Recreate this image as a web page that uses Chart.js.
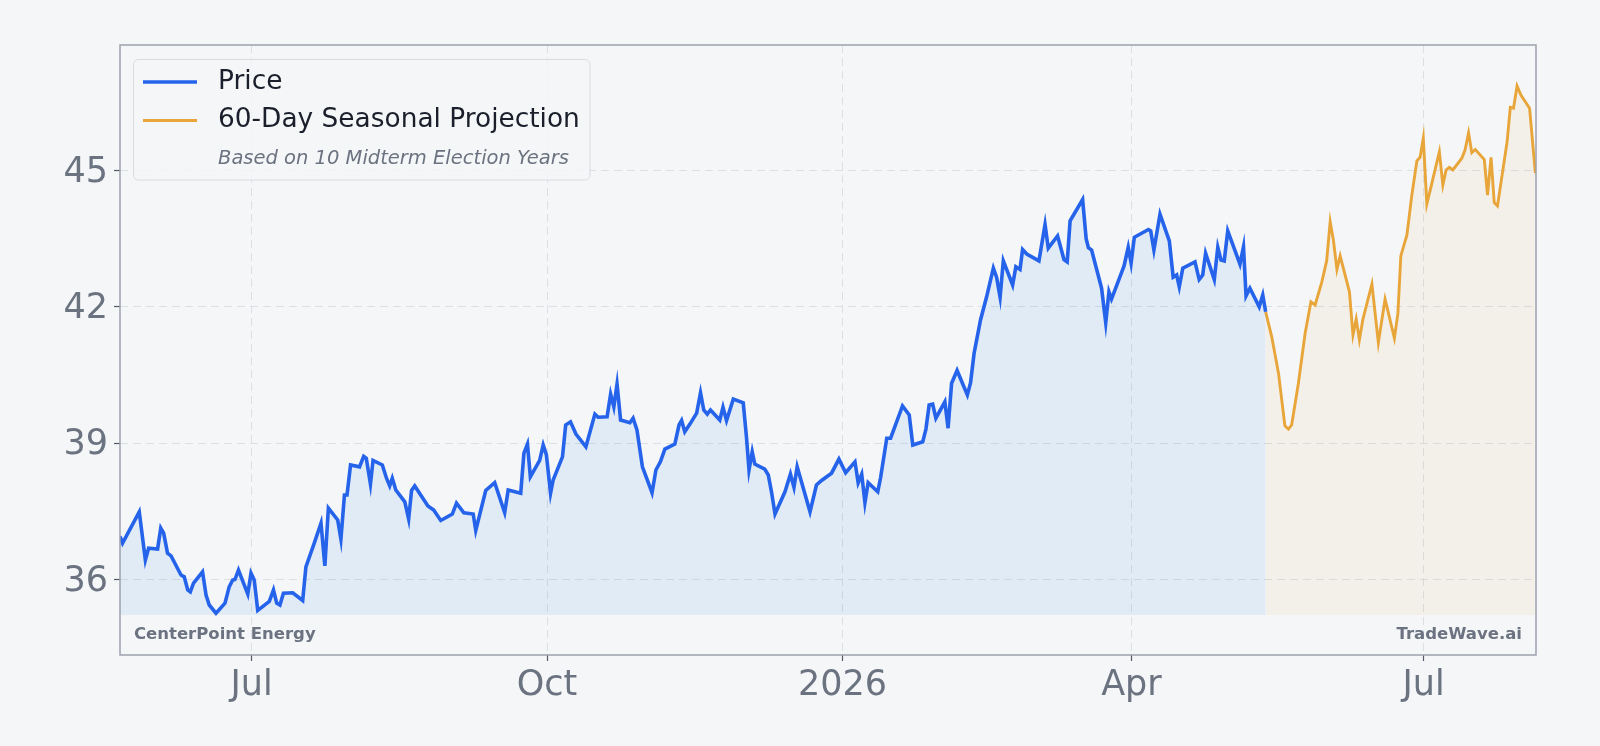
<!DOCTYPE html>
<html>
<head>
<meta charset="utf-8">
<script src="https://cdn.jsdelivr.net/npm/chart.js@4/dist/chart.umd.min.js"></script>
<style>
  html, body { margin: 0; padding: 0; background: #F5F6F8; }
  #wrap { width: 1600px; height: 746px; }
</style>
</head>
<body>
<div id="wrap"><canvas id="c" width="1600" height="746"></canvas></div>
<script>
// x values are days since 2025-07-01
const priceDays = [-41.0,-40.2,-35.0,-33.1,-32.1,-29.3,-28.3,-27.4,-26.2,-25.1,-22.0,-21.0,-19.9,-19.1,-18.1,-15.3,-14.2,-13.2,-11.1,-8.3,-7.0,-5.9,-5.2,-4.1,-1.2,-0.2,0.8,1.9,5.5,6.8,7.8,8.8,9.9,12.8,15.9,16.9,19.5,21.6,22.8,23.9,26.8,27.8,28.9,29.7,30.8,33.6,34.9,35.7,37.0,37.8,40.7,42.0,43.0,43.8,44.9,47.7,48.9,49.8,50.8,54.9,56.7,58.9,62.5,63.8,66.1,69.0,69.8,72.9,75.7,78.8,79.9,83.8,84.8,85.9,86.8,89.7,90.8,91.8,93.1,93.9,96.8,97.8,99.3,101.0,104.1,106.9,107.9,110.7,111.8,112.8,113.8,114.9,117.8,118.8,120.0,121.7,124.7,125.9,127.3,128.7,131.8,133.1,133.9,134.9,136.5,138.6,139.8,140.8,141.9,142.9,145.8,146.8,147.9,150.0,153.1,154.1,154.9,155.9,156.7,159.8,160.9,161.9,163.0,166.1,167.8,168.9,169.9,173.9,175.9,177.5,180.6,182.9,185.0,187.9,188.9,190.0,191.0,192.0,195.0,195.9,197.8,199.0,202.7,204.8,205.9,209.0,210.0,211.0,212.1,213.1,215.9,216.9,218.0,219.7,222.9,223.9,225.0,227.0,228.9,231.0,232.0,233.1,234.1,237.0,238.0,239.3,240.1,241.4,245.2,247.1,248.1,251.0,253.0,254.0,254.9,258.8,259.9,260.6,261.6,264.7,266.0,267.0,267.8,271.7,273.0,273.9,274.9,279.3,280.0,281.0,282.9,285.8,287.0,288.1,288.9,290.0,293.8,295.1,296.2,297.1,299.8,300.9,301.9,302.9,304.0,307.8,308.9,309.7,310.9,313.8,314.9,315.8];
const priceValues = [36.95,36.80,37.49,36.43,36.69,36.67,37.13,37.02,36.58,36.52,36.10,36.06,35.77,35.73,35.92,36.17,35.66,35.44,35.26,35.48,35.84,35.99,36.00,36.21,35.68,36.14,35.99,35.32,35.52,35.77,35.48,35.44,35.70,35.71,35.54,36.28,36.80,37.24,36.30,37.57,37.31,36.89,37.86,37.86,38.52,38.48,38.71,38.67,38.10,38.62,38.52,38.23,38.06,38.23,37.97,37.71,37.33,37.96,38.06,37.62,37.53,37.30,37.44,37.68,37.47,37.44,37.08,37.96,38.13,37.47,37.97,37.90,38.78,38.98,38.26,38.62,38.96,38.74,37.90,38.19,38.70,39.40,39.47,39.20,38.92,39.64,39.57,39.58,40.08,39.80,40.30,39.51,39.45,39.55,39.29,38.48,37.91,38.41,38.59,38.87,38.98,39.40,39.50,39.25,39.42,39.66,40.11,39.73,39.64,39.73,39.51,39.79,39.50,39.97,39.89,39.14,38.41,38.81,38.54,38.43,38.30,37.93,37.44,37.93,38.32,38.03,38.48,37.49,38.08,38.18,38.34,38.65,38.35,38.59,38.13,38.32,37.69,38.13,37.93,38.25,39.11,39.11,39.82,39.62,38.96,39.03,39.31,39.84,39.86,39.55,39.91,39.33,40.32,40.60,40.06,40.33,40.98,41.71,42.22,42.85,42.65,42.21,43.01,42.48,42.88,42.82,43.26,43.16,43.01,43.81,43.29,43.56,43.04,42.99,43.89,44.36,43.50,43.30,43.25,42.41,41.65,42.33,42.17,42.90,43.31,42.96,43.53,43.70,43.67,43.25,44.04,43.45,42.65,42.70,42.44,42.85,42.99,42.60,42.70,43.18,42.60,43.31,43.03,43.01,43.67,42.94,43.32,42.24,42.41,42.00,42.26,41.89];
const projDays = [315.8,317.7,319.8,321.8,322.9,323.9,326.0,328.1,329.9,331.2,333.3,334.8,335.9,336.9,338.0,339.0,341.9,343.0,344.0,345.0,346.1,348.9,350.9,353.0,355.9,357.0,357.9,359.8,361.3,362.9,363.9,364.9,366.0,367.0,369.9,371.0,372.0,373.0,374.1,376.9,377.9,379.0,380.0,381.1,383.9,384.9,386.0,387.0,388.0,391.0,392.0,393.0,394.1,395.3,398.0,399.8];
const projValues = [41.89,41.34,40.54,39.38,39.31,39.40,40.32,41.42,42.11,42.04,42.55,43.01,43.87,43.47,42.82,43.12,42.33,41.38,41.73,41.27,41.73,42.50,41.21,42.17,41.31,41.86,43.12,43.58,44.44,45.21,45.29,45.71,44.26,44.55,45.41,44.68,45.01,45.07,45.01,45.27,45.45,45.83,45.39,45.46,45.24,44.46,45.29,44.29,44.22,45.63,46.39,46.37,46.86,46.66,46.37,44.94];
const xTickDays = [0, 92, 184, 274, 365];
const xTickLabels = ['Jul', 'Oct', '2026', 'Apr', 'Jul'];
const yTickValues = [36, 39, 42, 45];
const fillBase = 35.22;
const seriesNames = ['Price', '60-Day Seasonal Projection'];
const legendNote = 'Based on 10 Midterm Election Years';
const leftMark = 'CenterPoint Energy';
const rightMark = 'TradeWave.ai';

const FONT = "'DejaVu Sans', 'Liberation Sans', sans-serif";
const BLUE = '#2563EB';
const ORANGE = '#E8A63A';
const TICKC = '#6b7280';

const overlay = {
  id: 'overlay',
  afterDraw(chart) {
    const ctx = chart.ctx;
    const a = chart.chartArea;
    ctx.save();
    // frame
    ctx.strokeStyle = '#9ca1ab';
    ctx.lineWidth = 1.5;
    ctx.strokeRect(a.left, a.top, a.right - a.left, a.bottom - a.top);
    // watermarks
    ctx.font = 'bold 16.5px ' + FONT;
    ctx.fillStyle = '#6b7280';
    ctx.textBaseline = 'middle';
    ctx.textAlign = 'left';
    ctx.fillText(leftMark, a.left + 14, a.bottom - 20);
    ctx.textAlign = 'right';
    ctx.fillText(rightMark, a.right - 14, a.bottom - 20);
    // legend box
    const bx = a.left + 13.5, by = a.top + 14.5, bw = 456.5, bh = 120.5;
    ctx.beginPath();
    ctx.roundRect(bx, by, bw, bh, 5);
    ctx.fillStyle = 'rgba(245,246,248,0.8)';
    ctx.fill();
    ctx.strokeStyle = '#d8dbe0';
    ctx.lineWidth = 1;
    ctx.stroke();
    const lx0 = bx + 9.5, lx1 = bx + 63.5, tx = bx + 84.5;
    const rows = [by + 22.5, by + 61, by + 99.5];
    ctx.lineCap = 'butt';
    ctx.strokeStyle = BLUE; ctx.lineWidth = 3.5;
    ctx.beginPath(); ctx.moveTo(lx0, rows[0]); ctx.lineTo(lx1, rows[0]); ctx.stroke();
    ctx.strokeStyle = ORANGE; ctx.lineWidth = 2.8;
    ctx.beginPath(); ctx.moveTo(lx0, rows[1]); ctx.lineTo(lx1, rows[1]); ctx.stroke();
    ctx.textAlign = 'left';
    ctx.fillStyle = '#1a1f2b';
    ctx.font = '26.4px ' + FONT;
    ctx.fillText(seriesNames[0], tx, rows[0]);
    ctx.fillText(seriesNames[1], tx, rows[1]);
    ctx.font = 'italic 19.5px ' + FONT;
    ctx.fillStyle = '#6b7280';
    ctx.fillText(legendNote, tx, rows[2]);
    ctx.restore();
  }
};

new Chart(document.getElementById('c'), {
  type: 'line',
  data: {
    datasets: [
      {
        label: seriesNames[0],
        data: priceDays.map((d, i) => ({ x: d, y: priceValues[i] })),
        borderColor: BLUE,
        borderWidth: 3.6,
        backgroundColor: 'rgba(45,136,238,0.10)',
        fill: { value: fillBase },
        pointRadius: 0,
        tension: 0,
        borderJoinStyle: 'miter'
      },
      {
        label: seriesNames[1],
        data: projDays.map((d, i) => ({ x: d, y: projValues[i] })),
        borderColor: ORANGE,
        borderWidth: 2.9,
        backgroundColor: 'rgba(232,163,58,0.08)',
        fill: { value: fillBase },
        pointRadius: 0,
        tension: 0
      }
    ]
  },
  options: {
    responsive: false,
    animation: false,
    layout: { padding: { left: 0, top: 45, right: 64, bottom: 0 } },
    plugins: { legend: { display: false }, tooltip: { enabled: false } },
    scales: {
      x: {
        type: 'linear',
        min: -41,
        max: 400,
        afterBuildTicks(s) { s.ticks = xTickDays.map(v => ({ value: v })); },
        afterFit(s) { s.height = 91; },
        ticks: {
          autoSkip: false,
          maxRotation: 0,
          padding: 4,
          color: TICKC,
          font: { family: FONT, size: 35 },
          callback(v) { const i = xTickDays.indexOf(v); return i >= 0 ? xTickLabels[i] : ''; }
        },
        grid: { color: '#dcdfe4', lineWidth: 1, tickLength: 6, tickColor: '#555b66', tickWidth: 1.2, tickBorderDash: [] },
        border: { display: false, dash: [8, 5] }
      },
      y: {
        type: 'linear',
        min: 34.34,
        max: 47.76,
        afterBuildTicks(s) { s.ticks = yTickValues.map(v => ({ value: v })); },
        afterFit(s) { s.width = 120; },
        ticks: {
          padding: 6,
          labelOffset: 2,
          color: TICKC,
          font: { family: FONT, size: 35 },
          callback(v) { return String(v); }
        },
        grid: { color: '#dcdfe4', lineWidth: 1, tickLength: 6, tickColor: '#555b66', tickWidth: 1.2, tickBorderDash: [] },
        border: { display: false, dash: [8, 5] }
      }
    }
  },
  plugins: [overlay]
});
</script>
</body>
</html>
